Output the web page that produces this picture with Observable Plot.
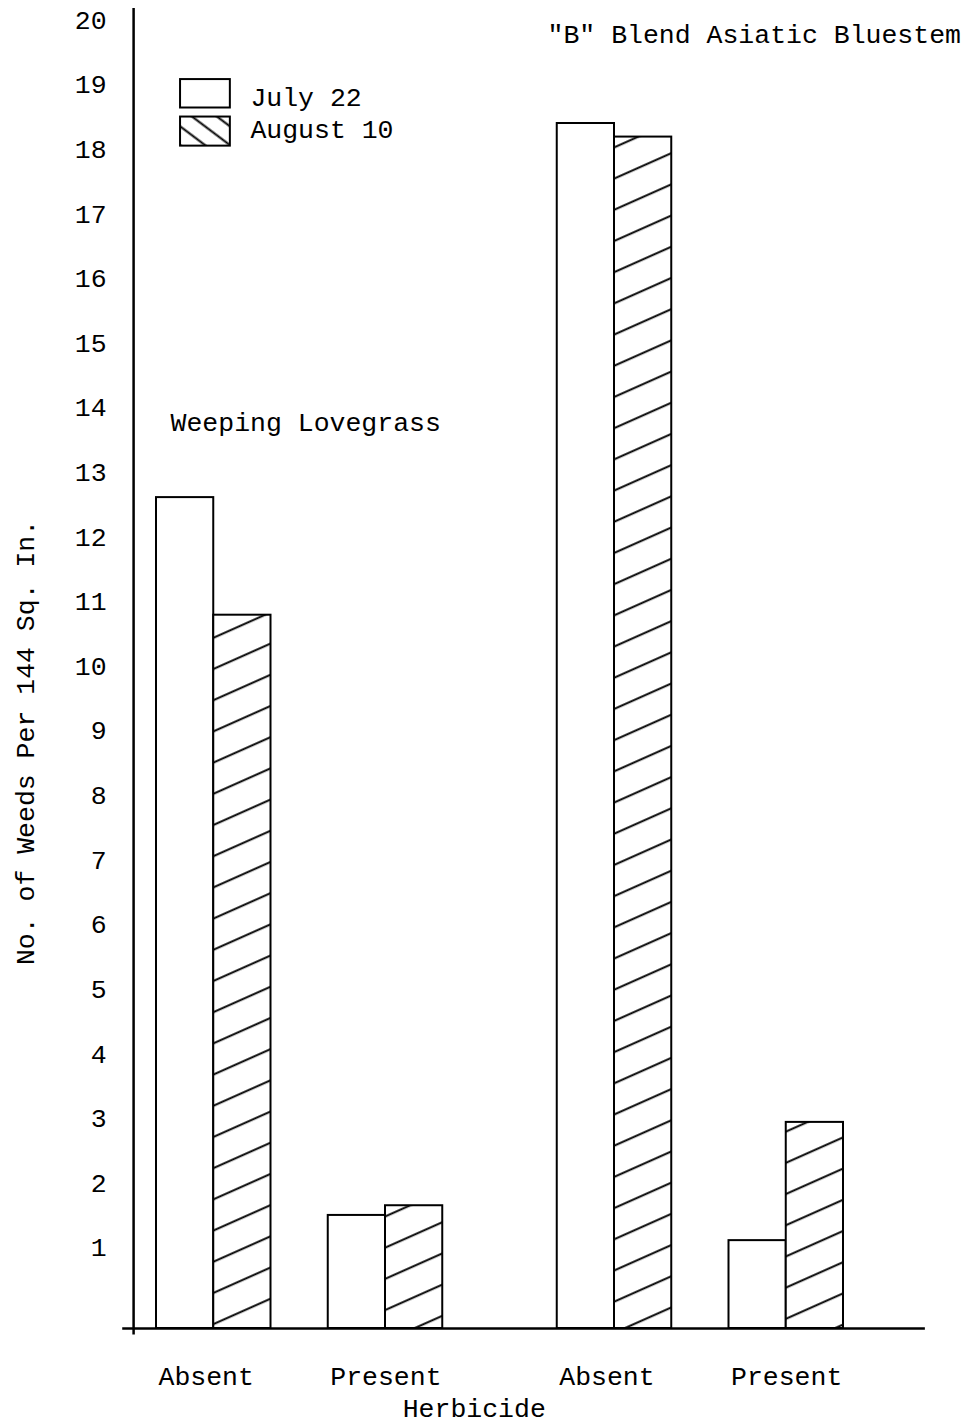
<!DOCTYPE html>
<html><head><meta charset="utf-8">
<script src="https://cdn.jsdelivr.net/npm/d3@7"></script>
<script src="https://cdn.jsdelivr.net/npm/@observablehq/plot@0.6"></script>
<style>body{margin:0;background:#fff;} svg{display:block;}</style>
</head><body><div id="chart"></div>
<script>
const species = ["Weeping Lovegrass", "\"B\" Blend Asiatic Bluestem"];
const herbicide = ["Absent", "Present"];
const dates = ["July 22", "August 10"];
const july22 = [12.86, 1.75, 18.65, 1.36];
const august10 = [11.04, 1.90, 18.44, 3.19];
const yTicks = [1, 2, 3, 4, 5, 6, 7, 8, 9, 10, 11, 12, 13, 14, 15, 16, 17, 18, 19, 20];
const yTitle = "No. of Weeds Per 144 Sq. In.";
const xTitle = "Herbicide";

const rows = [];
species.forEach((sp, s) => herbicide.forEach((h, k) => {
  const g = s * 2 + k;
  dates.forEach((dt, d) => rows.push({
    species: sp, herbicide: h, date: dt,
    value: (d === 0 ? july22 : august10)[g],
    slot: 3 * g + s + d
  }));
}));
const julyRows = rows.filter(r => r.date === dates[0]);
const augRows = rows.filter(r => r.date === dates[1]);

const fs = "26.5px";
const svg = Plot.plot({
  width: 979, height: 1424,
  marginLeft: 156, marginRight: 136, marginTop: 8, marginBottom: 96,
  style: {fontFamily: "'Liberation Mono', 'DejaVu Sans Mono', monospace", fontSize: fs, background: "white", color: "black", overflow: "visible"},
  x: {type: "linear", domain: [0, 12], axis: null},
  y: {domain: [0, 20.43], axis: null},
  marks: [
    Plot.rect(julyRows, {x1: "slot", x2: d => d.slot + 1, y1: 0, y2: "value", fill: "white", stroke: "black", strokeWidth: 2}),
    Plot.rect(augRows, {x1: "slot", x2: d => d.slot + 1, y1: 0, y2: "value", fill: "url(#hatch)", stroke: "black", strokeWidth: 2}),
    Plot.ruleX([-0.4], {y1: -0.1, y2: 20.43, stroke: "black", strokeWidth: 2.5}),
    Plot.ruleY([0], {x1: -0.59, x2: 13.43, stroke: "black", strokeWidth: 2.5}),
    Plot.text(yTicks, {x: -0.4, y: d => d, text: d => String(d), dx: -27, dy: -16, textAnchor: "end", fontSize: fs, fill: "black"}),
    Plot.text([yTitle], {x: -2.29, y: 9.07, text: d => d, rotate: -90, fontSize: fs, fill: "black"}),
    Plot.text(julyRows, {x: "slot", y: -0.74, text: "herbicide", textAnchor: "start", dx: 2, fontSize: fs, fill: "black"}),
    Plot.text([xTitle], {x: 5.55, y: -1.24, text: d => d, fontSize: fs, fill: "black"}),
    Plot.text([species[0]], {x: 0.245, y: 14.02, text: d => d, textAnchor: "start", fontSize: fs, fill: "black"}),
    Plot.text([species[1]], {x: 6.83, y: 20.02, text: d => d, textAnchor: "start", fontSize: fs, fill: "black"}),
    Plot.rect([dates[0]], {x1: 0.42, x2: 1.29, y1: 18.89, y2: 19.33, fill: "white", stroke: "black", strokeWidth: 2}),
    Plot.rect([dates[1]], {x1: 0.42, x2: 1.29, y1: 18.30, y2: 18.75, fill: "url(#hatchL)", stroke: "black", strokeWidth: 2}),
    Plot.text(dates, {x: 1.64, y: (d, i) => i === 0 ? 19.06 : 18.55, text: d => d, textAnchor: "start", fontSize: fs, fill: "black"})
  ]
});
d3.select(svg).insert("defs", ":first-child").html(`
  <pattern id="hatch" patternUnits="userSpaceOnUse" width="60" height="28.5" patternTransform="rotate(-24)">
    <rect width="60" height="28.5" fill="white"/>
    <line x1="-5" y1="14" x2="65" y2="14" stroke="black" stroke-width="2.2"/>
  </pattern>
  <pattern id="hatchL" patternUnits="userSpaceOnUse" width="40" height="15" patternTransform="rotate(37)">
    <rect width="40" height="15" fill="white"/>
    <line x1="-5" y1="7.5" x2="45" y2="7.5" stroke="black" stroke-width="2"/>
  </pattern>`);
document.getElementById("chart").appendChild(svg);
</script>
</body></html>
